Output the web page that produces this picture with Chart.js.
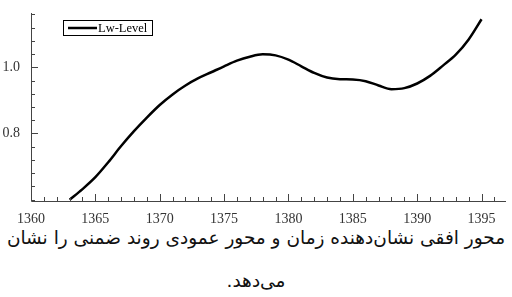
<!DOCTYPE html>
<html>
<head>
<meta charset="utf-8">
<script src="https://cdn.jsdelivr.net/npm/chart.js@4/dist/chart.umd.min.js"></script>
<style>
  html, body { margin: 0; padding: 0; background: #fff; width: 512px; height: 297px; overflow: hidden; }
  #wrap { position: absolute; left: 0; top: 0; width: 512px; height: 225px; }
  .cap { position: absolute; left: 0; width: 512px; text-align: center; direction: rtl;
         font-family: "DejaVu Sans", sans-serif; font-size: 18.5px; color: #111; white-space: nowrap; }
</style>
</head>
<body>
<div id="wrap"><canvas id="chart" width="512" height="225"></canvas></div>
<div class="cap" style="top:227px">محور افقی نشان‌دهنده زمان و محور عمودی روند ضمنی را نشان</div>
<div class="cap" style="top:270px">می‌دهد.</div>
<script>
const years = [1363, 1364, 1365, 1366, 1367, 1368, 1369, 1370, 1371, 1372, 1373, 1374, 1375, 1376, 1377, 1378, 1379,
               1380, 1381, 1382, 1383, 1384, 1385, 1386, 1387, 1388, 1389, 1390, 1391, 1392, 1393, 1394, 1395];
const level = [0.600, 0.632, 0.668, 0.713, 0.762, 0.807, 0.848, 0.886, 0.918, 0.945, 0.967, 0.985, 1.003, 1.020, 1.032, 1.039, 1.036,
               1.023, 1.003, 0.983, 0.969, 0.964, 0.963, 0.958, 0.945, 0.934, 0.937, 0.951, 0.974, 1.005, 1.038, 1.084, 1.145];
const xTicks = [1360, 1365, 1370, 1375, 1380, 1385, 1390, 1395];
const yTicks = [0.8, 1.0];
const seriesName = 'Lw-Level';

const axisColor = '#444';
const serif = '"Liberation Serif", "Times New Roman", serif';
const tickFont = { family: serif, size: 14 };

// inward tick marks + legend box
const decor = {
  id: 'decor',
  afterDraw(chart) {
    const c = chart.ctx, xs = chart.scales.x, ys = chart.scales.y, a = chart.chartArea;
    c.save();
    c.strokeStyle = axisColor;
    c.lineWidth = 1;
    c.beginPath();
    c.moveTo(a.left + 0.5, a.top);
    c.lineTo(a.left + 0.5, a.bottom + 0.5);
    c.lineTo(a.right, a.bottom + 0.5);
    for (let yr = 1360; yr <= xs.max; yr++) {
      const px = Math.round(xs.getPixelForValue(yr)) + 0.5;
      const len = yr % 5 === 0 ? 7 : 4;
      c.moveTo(px, a.bottom);
      c.lineTo(px, a.bottom - len);
    }
    for (let i = 0; ; i++) {
      const v = 0.6 + i * 0.04;
      if (v > ys.max) break;
      const py = Math.round(ys.getPixelForValue(v)) + 0.5;
      const major = Math.abs(v - 0.8) < 1e-6 || Math.abs(v - 1.0) < 1e-6;
      c.moveTo(a.left, py);
      c.lineTo(a.left + (major ? 7 : 4), py);
    }
    c.stroke();

    // legend
    const lx = 63, ly = 20, lw = 89, lh = 15;
    c.fillStyle = '#fff';
    c.fillRect(lx, ly, lw, lh);
    c.strokeStyle = '#000';
    c.strokeRect(lx + 0.5, ly + 0.5, lw, lh);
    c.lineWidth = 2.5;
    c.beginPath();
    c.moveTo(lx + 5, ly + 8);
    c.lineTo(lx + 34, ly + 8);
    c.stroke();
    c.fillStyle = '#000';
    c.font = '12.5px ' + serif;
    c.textBaseline = 'middle';
    c.fillText(seriesName, lx + 35, ly + 8.5);
    c.restore();
  }
};

function draw() {
  new Chart(document.getElementById('chart'), {
    type: 'line',
    data: {
      labels: years,
      datasets: [{
        label: seriesName,
        data: years.map((y, i) => ({ x: y, y: level[i] })),
        borderColor: '#000',
        borderWidth: 2.5,
        pointRadius: 0,
        fill: false,
        cubicInterpolationMode: 'monotone'
      }]
    },
    options: {
      responsive: false,
      animation: false,
      clip: false,
      layout: { padding: { top: 13, right: 6, left: 0, bottom: 0 } },
      plugins: { legend: { display: false }, tooltip: { enabled: false } },
      scales: {
        x: {
          type: 'linear',
          min: 1360,
          max: 1396.9,
          border: { display: false },
          grid: { display: false },
          afterBuildTicks: s => { s.ticks = xTicks.map(v => ({ value: v })); },
          afterFit: s => { s.height = 24; },
          ticks: { color: '#333', font: tickFont, padding: 2, maxRotation: 0, callback: v => String(v) }
        },
        y: {
          min: 0.596,
          max: 1.164,
          border: { display: false },
          grid: { display: false },
          afterBuildTicks: s => { s.ticks = yTicks.map(v => ({ value: v })); },
          afterFit: s => { s.width = 31; },
          ticks: { color: '#333', font: tickFont, padding: 3, callback: v => v.toFixed(1) }
        }
      }
    },
    plugins: [decor]
  });
}

document.fonts.load('14px "Liberation Serif"').then(draw, draw);
</script>
</body>
</html>
